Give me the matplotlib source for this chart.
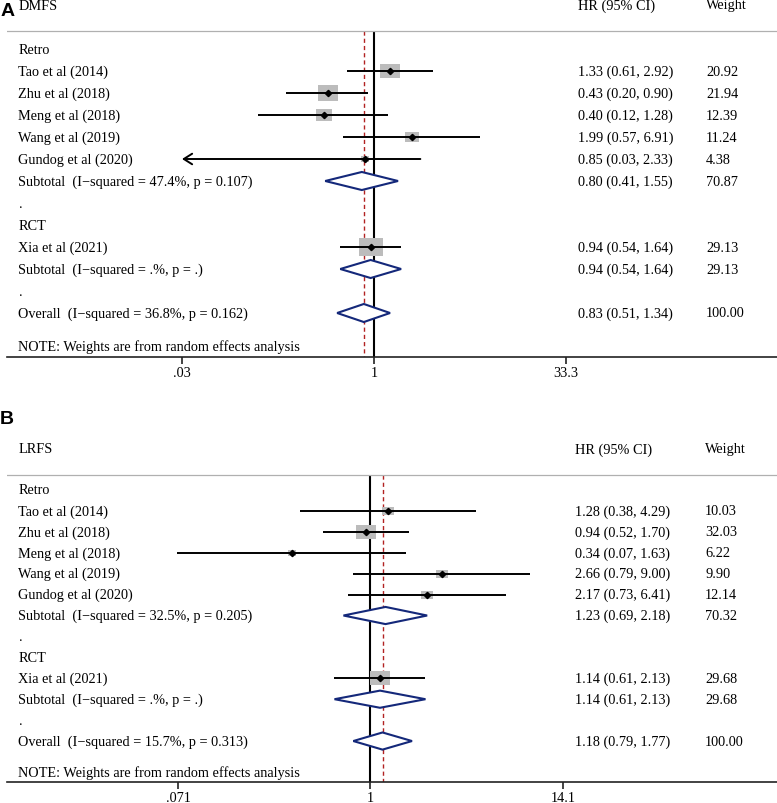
import numpy as np
import matplotlib
matplotlib.use("Agg")
import matplotlib.pyplot as plt
from matplotlib.path import Path
from matplotlib.patches import Polygon
from matplotlib.transforms import blended_transform_factory

# ---------------- data ----------------
studies = ["Tao et al (2014)", "Zhu et al (2018)", "Meng et al (2018)",
           "Wang et al (2019)", "Gundog et al (2020)", "Xia et al (2021)"]
design = ["Retro", "Retro", "Retro", "Retro", "Retro", "RCT"]
group_order = ["Retro", "RCT"]

dmfs_hr = [1.33, 0.43, 0.40, 1.99, 0.85, 0.94]
dmfs_lo = [0.61, 0.20, 0.12, 0.57, 0.03, 0.54]
dmfs_hi = [2.92, 0.90, 1.28, 6.91, 2.33, 1.64]
dmfs_w = [20.92, 21.94, 12.39, 11.24, 4.38, 29.13]
dmfs_lo_clipped = [False, False, False, False, True, False]  # CI runs off the axis (arrow)
dmfs_sub_hr = [0.80, 0.94]
dmfs_sub_lo = [0.41, 0.54]
dmfs_sub_hi = [1.55, 1.64]
dmfs_sub_w = [70.87, 29.13]
dmfs_sub_i2 = ["47.4%", ".%"]
dmfs_sub_p = ["0.107", "."]
dmfs_all = [0.83, 0.51, 1.34]
dmfs_all_w = 100.00
dmfs_all_i2 = "36.8%"
dmfs_all_p = "0.162"
dmfs_ticks = [0.03, 1, 33.3]
dmfs_ticklabels = [".03", "1", "33.3"]

lrfs_hr = [1.28, 0.94, 0.34, 2.66, 2.17, 1.14]
lrfs_lo = [0.38, 0.52, 0.07, 0.79, 0.73, 0.61]
lrfs_hi = [4.29, 1.70, 1.63, 9.00, 6.41, 2.13]
lrfs_w = [10.03, 32.03, 6.22, 9.90, 12.14, 29.68]
lrfs_lo_clipped = [False, False, False, False, False, False]
lrfs_sub_hr = [1.23, 1.14]
lrfs_sub_lo = [0.69, 0.61]
lrfs_sub_hi = [2.18, 2.13]
lrfs_sub_w = [70.32, 29.68]
lrfs_sub_i2 = ["32.5%", ".%"]
lrfs_sub_p = ["0.205", "."]
lrfs_all = [1.18, 0.79, 1.77]
lrfs_all_w = 100.00
lrfs_all_i2 = "15.7%"
lrfs_all_p = "0.313"
lrfs_ticks = [0.071, 1, 14.1]
lrfs_ticklabels = [".071", "1", "14.1"]

note_text = "NOTE: Weights are from random effects analysis"

# ---------------- style ----------------
W, H = 777, 804
plt.rcParams['font.family'] = ['Liberation Serif', 'DejaVu Serif']
FS = 10.25
NAVY = '#14287a'
BOXGRAY = '#bcbcbc'
RED = '#b22222'

fig = plt.figure(figsize=(W / 100, H / 100), dpi=100)


def draw_panel(title, letter, hr, lo, hi, w, clipped, sub_hr, sub_lo, sub_hi,
               sub_w, sub_i2, sub_p, allv, all_w, all_i2, all_p, ticks,
               ticklabels, lay):
    left_px, right_px = 7, 777
    top_px, bot_px = lay['top'], lay['bot']
    r0, step = lay['row0'], lay['step']
    ax = fig.add_axes([left_px / W, (H - bot_px) / H,
                       (right_px - left_px) / W, (bot_px - top_px) / H])
    # x scale: log, anchored to the tick pixel positions
    t0, t1 = np.log(ticks[0]), np.log(ticks[-1])
    p0, p1 = lay['tick_px']
    scale = (p1 - p0) / (t1 - t0)
    xmin = np.exp(t0 + (left_px - p0) / scale)
    xmax = np.exp(t0 + (right_px - p0) / scale)
    ax.set_xscale('log')
    ax.set_xlim(xmin, xmax)
    ylo = (bot_px - r0) / step
    yhi = (top_px - r0) / step
    ax.set_ylim(ylo, yhi)
    tr = blended_transform_factory(ax.transAxes, ax.transData)

    def fx(px):
        return (px - left_px) / (right_px - left_px)

    xl, xc, xw = fx(18.5), fx(lay['hrcol']), fx(lay['wcol'])
    header_r = (lay['header'] - r0) / step
    title_r = (lay['title'] - r0) / step

    # header
    ax.text(xl, title_r, title, transform=tr, fontsize=FS, va='center', ha='left')
    ax.text(xc, title_r, "HR (95% CI)", transform=tr, fontsize=FS, va='center', ha='left')
    ax.text(xw, title_r, "Weight", transform=tr, fontsize=FS, va='center', ha='left')
    ax.axhline(header_r, color='#b0b0b0', lw=0.9)

    # reference lines
    ax.vlines(1, header_r, ylo, color='black', lw=1.5, zorder=1)
    ax.vlines(allv[0], header_r, ylo, color=RED, lw=1.0,
              linestyles=(0, (3, 2.2)), zorder=1)

    a = lay['aspect']
    box = Path([(-a, -1), (a, -1), (a, 1), (-a, 1), (-a, -1)],
               [Path.MOVETO, Path.LINETO, Path.LINETO, Path.LINETO, Path.CLOSEPOLY])
    dh = 0.41

    def diamond(r, e, l, h):
        ax.add_patch(Polygon([(l, r), (e, r - dh), (h, r), (e, r + dh)],
                             closed=True, facecolor='white', edgecolor=NAVY,
                             lw=1.5, zorder=3))

    def vals(r, e, l, h, wt):
        ax.text(xc, r, f"{e:.2f} ({l:.2f}, {h:.2f})", transform=tr,
                fontsize=FS, va='center', ha='left')
        ax.text(xw, r, f"{wt:.2f}", transform=tr, fontsize=FS,
                va='center', ha='left')

    row = 0
    for gi, g in enumerate(group_order):
        ax.text(xl, row, g, transform=tr, fontsize=FS, va='center', ha='left')
        row += 1
        for i, s in enumerate(studies):
            if design[i] != g:
                continue
            ax.text(xl, row, s, transform=tr, fontsize=FS, va='center', ha='left')
            ax.scatter([hr[i]], [row], s=(lay['boxk'] * 0.72) ** 2 * w[i],
                       marker=box, color=BOXGRAY, linewidths=0, zorder=2)
            if clipped[i]:
                ax.annotate('', xy=(ticks[0], row), xytext=(hi[i], row),
                            arrowprops=dict(arrowstyle='->,head_length=0.6,head_width=0.38',
                                            lw=1.4, color='black', shrinkA=0,
                                            shrinkB=0, mutation_scale=10),
                            zorder=4)
            else:
                ax.hlines(row, lo[i], hi[i], color='black', lw=1.4, zorder=4)
            ax.plot([hr[i]], [row], marker='D', ms=3.2, color='black', zorder=5)
            vals(row, hr[i], lo[i], hi[i], w[i])
            row += 1
        ax.text(xl, row, f"Subtotal  (I\u2212squared = {sub_i2[gi]}, p = {sub_p[gi]})",
                transform=tr, fontsize=FS, va='center', ha='left')
        diamond(row, sub_hr[gi], sub_lo[gi], sub_hi[gi])
        vals(row, sub_hr[gi], sub_lo[gi], sub_hi[gi], sub_w[gi])
        row += 1
        ax.text(xl, row, ".", transform=tr, fontsize=FS, va='center', ha='left')
        row += 1
    ax.text(xl, row, f"Overall  (I\u2212squared = {all_i2}, p = {all_p})",
            transform=tr, fontsize=FS, va='center', ha='left')
    diamond(row, *allv)
    vals(row, allv[0], allv[1], allv[2], all_w)
    ax.text(xl, row + 1.5, note_text, transform=tr, fontsize=FS,
            va='center', ha='left')

    # axes styling
    for sp in ['top', 'left', 'right']:
        ax.spines[sp].set_visible(False)
    ax.spines['bottom'].set_color('#222222')
    ax.spines['bottom'].set_linewidth(1.2)
    ax.set_yticks([])
    ax.set_xticks(ticks)
    ax.set_xticklabels(ticklabels, fontsize=FS)
    ax.minorticks_off()
    ax.tick_params(axis='x', direction='out', length=5, width=1.2,
                   pad=1.5, color='#222222')
    ax.patch.set_alpha(0)

    fig.text(lay['letter_x'] / W, 1 - lay['letter_y'] / H, letter,
             fontsize=14, fontweight='bold', family='Liberation Sans',
             va='center', ha='left')
    return ax


layA = dict(top=0, bot=358, row0=50, step=22.0, tick_px=(182, 566),
            header=32, title=6, boxk=4.27, aspect=1.32, hrcol=578, wcol=706,
            letter_x=1, letter_y=12)
layB = dict(top=436, bot=783, row0=491, step=20.92, tick_px=(178, 563),
            header=476, title=450, boxk=3.53, aspect=1.43, hrcol=575, wcol=705,
            letter_x=0, letter_y=419)

draw_panel("DMFS", "A", dmfs_hr, dmfs_lo, dmfs_hi, dmfs_w, dmfs_lo_clipped,
           dmfs_sub_hr, dmfs_sub_lo, dmfs_sub_hi, dmfs_sub_w, dmfs_sub_i2,
           dmfs_sub_p, dmfs_all, dmfs_all_w, dmfs_all_i2, dmfs_all_p,
           dmfs_ticks, dmfs_ticklabels, layA)
draw_panel("LRFS", "B", lrfs_hr, lrfs_lo, lrfs_hi, lrfs_w, lrfs_lo_clipped,
           lrfs_sub_hr, lrfs_sub_lo, lrfs_sub_hi, lrfs_sub_w, lrfs_sub_i2,
           lrfs_sub_p, lrfs_all, lrfs_all_w, lrfs_all_i2, lrfs_all_p,
           lrfs_ticks, lrfs_ticklabels, layB)

fig.savefig("out.png", dpi=100)
